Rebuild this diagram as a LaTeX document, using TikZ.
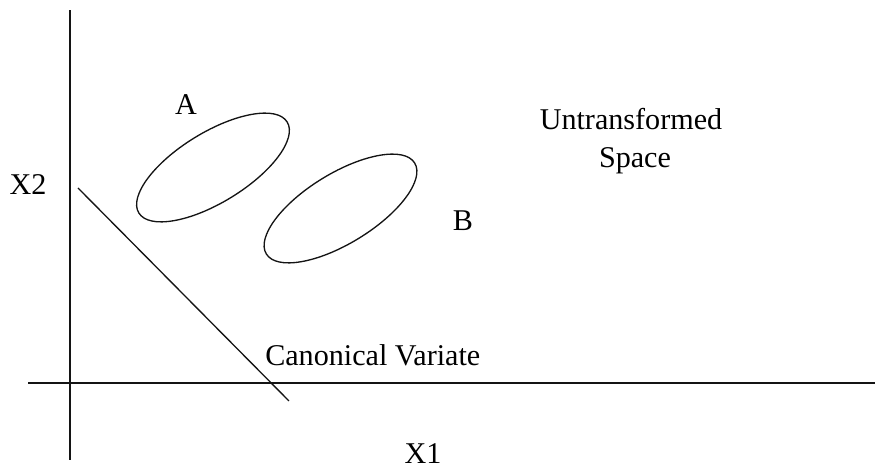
\documentclass[tikz,border=0pt]{standalone}
\usepackage{fontspec}
\setmainfont{Liberation Serif}
\usetikzlibrary{positioning}
\definecolor{trait}{RGB}{20,20,20}

\begin{document}
\begin{tikzpicture}[x=0.75pt, y=0.75pt,
    axe/.style={trait, line width=1.1pt},
    nuage/.style={trait, line width=1pt},
    etiq/.style={font=\fontsize{22.6}{26}\selectfont, inner sep=0pt, anchor=base}]
  \useasboundingbox (0,0) rectangle (875,470);
  % axes
  \coordinate (ybas) at (70,10);
  \coordinate (yhaut) at (70,460);
  \coordinate (xgauche) at (28,87);
  \coordinate (xdroite) at (875,87);
  \draw[axe] (ybas) -- (yhaut);
  \draw[axe] (xgauche) -- (xdroite);
  % variable canonique
  \coordinate (cvhaut) at (78,282);
  \coordinate (cvbas) at (289,69);
  \draw[nuage] (cvhaut) -- (cvbas);
  % groupes
  \coordinate (ellA) at (213,302.5);
  \coordinate (ellB) at (340.5,261.5);
  \draw[nuage, rotate around={31.5:(ellA)}] (ellA) ellipse [x radius=87, y radius=35];
  \draw[nuage, rotate around={31.5:(ellB)}] (ellB) ellipse [x radius=87, y radius=35];
  % etiquettes
  \node[etiq] (labA) at (186,355) {A};
  \node[etiq] (labB) at (463,239) {B};
  \node[etiq] (labX2) at (28,275) {X2};
  \node[etiq] (labX1) at (423,6) {X1};
  \node[etiq, anchor=base west] (labCV) at (265,104) {Canonical Variate};
  \node[etiq] (titre) at (631,340) {Untransformed};
  \node[etiq] (espace) at (635,302) {Space};
\end{tikzpicture}
\end{document}
